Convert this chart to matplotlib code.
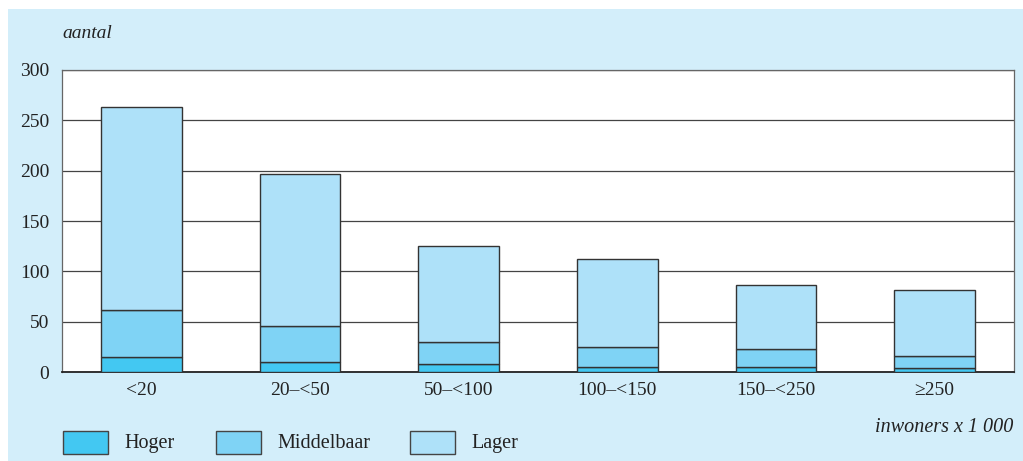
import matplotlib
matplotlib.use('Agg')
import matplotlib.pyplot as plt
from matplotlib.patches import Rectangle
import numpy as np

# Data
categories = ['<20', '20\u2013<50', '50\u2013<100', '100\u2013<150', '150\u2013<250', '\u2265250']
hoger = [15, 10, 8, 5, 5, 4]
middelbaar = [47, 36, 22, 20, 18, 12]
lager = [201, 151, 95, 87, 63, 65]
series_names = ['Hoger', 'Middelbaar', 'Lager']

colors = ['#43c8f2', '#7fd3f5', '#aee1f9']
panel = '#d3eefa'
W, H = 1023, 461

plt.rcParams['font.family'] = ['Liberation Serif', 'DejaVu Serif']

fig = plt.figure(figsize=(W / 100, H / 100), dpi=100)
fig.patches.append(Rectangle((8 / W, 0), 1, 452 / H, transform=fig.transFigure,
                             facecolor=panel, edgecolor='none', zorder=-10))

ax = fig.add_axes([62 / W, (H - 372) / H, 952 / W, 302 / H])
ax.set_facecolor('white')

x = np.arange(len(categories))
bottom = np.zeros(len(categories))
for vals, col, name in zip([hoger, middelbaar, lager], colors, series_names):
    ax.bar(x, vals, width=0.51, bottom=bottom, color=col, edgecolor='#333333',
           linewidth=1.0, label=name, zorder=3)
    bottom += np.array(vals)

ax.set_xlim(-0.5, len(categories) - 0.5)
ax.set_ylim(0, 300)
ax.set_yticks(range(0, 301, 50))
ax.set_xticks(x)
ax.set_xticklabels(categories)
ax.tick_params(axis='both', length=0, labelsize=14, colors='#222222')
ax.tick_params(axis='x', pad=7)
ax.tick_params(axis='y', pad=9)
ax.yaxis.grid(True, color='#444444', linewidth=0.9, zorder=0)
ax.set_axisbelow(True)
for s in ax.spines.values():
    s.set_color('#666666')
    s.set_linewidth(0.9)
ax.spines['bottom'].set_color('#222222')
ax.spines['bottom'].set_linewidth(1.3)

fig.text(62 / W, 1 - 33 / H, 'aantal', fontsize=14, style='italic',
         color='#222222', va='center', ha='left')
fig.text(1013 / W, 1 - 427 / H, 'inwoners x 1 000', fontsize=14.5, style='italic',
         color='#222222', va='center', ha='right')

# legend drawn by hand: swatch + label per series
leg_x = [63, 216, 410]
for lx, col, name in zip(leg_x, colors, series_names):
    fig.patches.append(Rectangle((lx / W, 1 - 454 / H), 45 / W, 23 / H,
                                 transform=fig.transFigure, facecolor=col,
                                 edgecolor='#444444', linewidth=1.0))
    fig.text((lx + 61) / W, 1 - 443 / H, name, fontsize=14.5, color='#222222',
             va='center', ha='left')

plt.savefig('out.png', dpi=100, facecolor='white')
